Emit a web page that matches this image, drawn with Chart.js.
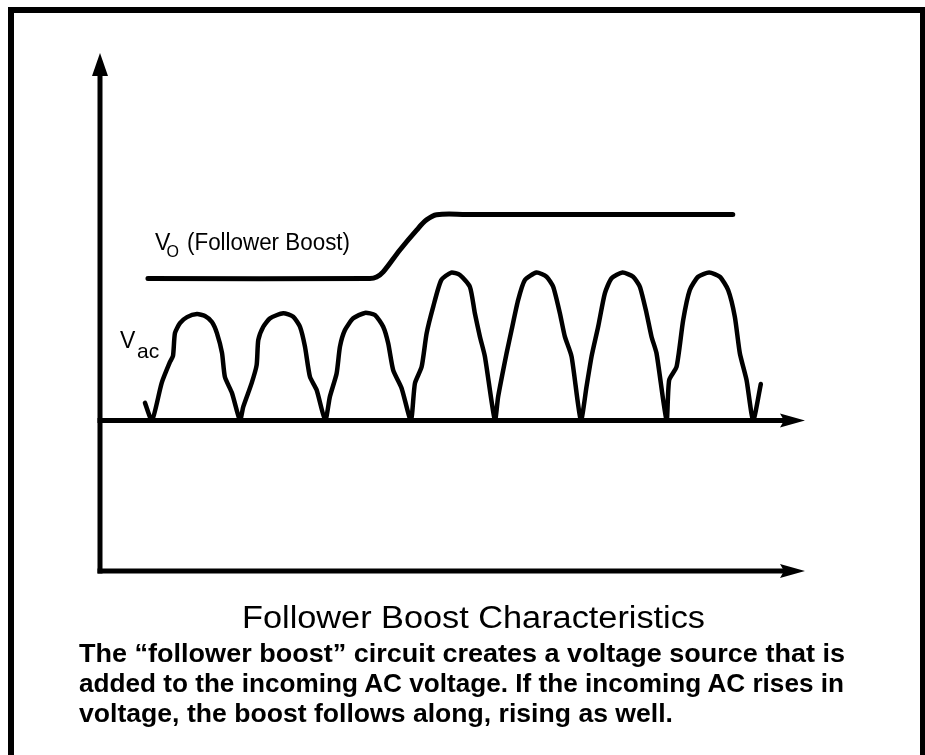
<!DOCTYPE html>
<html><head><meta charset="utf-8">
<script src="https://cdn.jsdelivr.net/npm/chart.js@4.4.1/dist/chart.umd.min.js"></script>
<style>
html,body{margin:0;padding:0;background:#fff;}
#wrap{position:relative;width:925px;height:755px;overflow:hidden;background:#fff;}
#frame{position:absolute;left:8px;top:7px;width:918px;height:800px;border:6px solid #000;box-sizing:border-box;}
#c{position:absolute;left:0;top:0;width:925px;height:755px;}
.t{position:absolute;white-space:nowrap;font-family:"Liberation Sans",Arial,Helvetica,sans-serif;color:#000;transform-origin:0 0;}
.b{font-weight:bold;}
</style></head>
<body><div id="wrap">
<div id="frame"></div>
<canvas id="c" width="925" height="755"></canvas>
<div class="t" id="voV">V</div>
<div class="t" id="voSub">O</div>
<div class="t" id="voTxt">(Follower Boost)</div>
<div class="t" id="vacV">V</div>
<div class="t" id="vacSub">ac</div>
<div class="t" id="title">Follower Boost Characteristics</div>
<div class="t b" id="cap1">The “follower boost” circuit creates a voltage source that is</div>
<div class="t b" id="cap2">added to the incoming AC voltage. If the incoming AC rises in</div>
<div class="t b" id="cap3">voltage, the boost follows along, rising as well.</div>
</div>
<script>
// ---- data (x = time units, half-cycle ≈ 10; y = volts, arbitrary units) ----
const vacX = [5.23, 6.05,
  7.17, 8.14, 8.49, 8.72, 9.30, 10.12, 11.28, 12.21, 13.02, 13.60, 14.19, 14.53, 15.35, 16.28,
  16.66, 17.64, 18.22, 18.41, 18.99, 19.77, 21.31, 22.48, 23.26, 23.84, 24.42, 25.20, 26.20,
  26.74, 27.52, 27.91, 28.49, 29.45, 30.81, 31.98, 32.94, 33.52, 34.10, 35.08, 36.16,
  36.63, 37.41, 37.99, 38.76, 39.69, 40.85, 41.86, 43.02, 43.60, 44.19, 44.77, 45.93,
  46.31, 47.29, 47.87, 48.64, 49.42, 50.78, 51.94, 52.71, 53.49, 54.07, 54.85, 55.93,
  56.59, 57.17, 57.94, 58.72, 59.50, 60.78, 62.01, 62.79, 63.57, 64.15, 64.73, 65.90,
  66.20, 67.06, 67.83, 68.60, 69.57, 70.85, 72.09, 73.06, 73.84, 74.42, 75.20, 75.97,
  76.86];
const vacY = [5.8, 0,
  12.4, 19.4, 21.4, 29.0, 32.3, 34.3, 35.3, 34.7, 32.7, 29.0, 22.4, 14.4, 9.1, 0,
  4.5, 12.4, 18.4, 26.7, 31.1, 33.9, 35.6, 34.4, 31.1, 24.5, 14.5, 10.1, 0,
  7.9, 15.6, 24.5, 30.0, 33.9, 35.7, 35.0, 31.1, 25.6, 16.7, 10.7, 0,
  12.3, 17.8, 28.9, 37.8, 46.6, 49.1, 48.3, 44.4, 35.6, 27.8, 21.2, 0,
  7.9, 22.3, 30.0, 40.0, 46.6, 49.1, 47.7, 44.4, 35.6, 27.8, 21.2, 0,
  11.2, 21.2, 31.1, 42.2, 47.2, 49.1, 47.7, 44.4, 35.6, 27.8, 22.3, 0,
  13.4, 17.8, 33.3, 43.3, 47.7, 49.1, 47.7, 43.3, 34.4, 22.3, 13.4, 0,
  12.1];
const voX = [5.58, 31.40, 32.17, 32.94, 34.88, 36.83, 37.99, 39.15, 42.64, 73.60];
const voY = [47.1, 47.1, 47.6, 49.3, 56.6, 63.2, 66.6, 68.3, 68.4, 68.4];

const xRange = [0, 82];
const yRange = [-50, 122];

const toPts = (xs, ys) => xs.map((v, i) => ({x: v, y: ys[i]}));

const axesPlugin = {
  id: 'axes',
  beforeDatasetsDraw(chart) {
    const {ctx, scales: {x, y}} = chart;
    const y0 = y.getPixelForValue(0);
    const xl = x.getPixelForValue(xRange[0]);
    const xr = x.getPixelForValue(xRange[1]);
    const yb = y.getPixelForValue(yRange[0]);
    const yt = y.getPixelForValue(yRange[1]);
    ctx.save();
    ctx.strokeStyle = '#000'; ctx.fillStyle = '#000'; ctx.lineWidth = 5; ctx.lineCap = 'butt';
    ctx.beginPath(); ctx.moveTo(xl, yb + 2.5); ctx.lineTo(xl, yt + 16); ctx.stroke();
    ctx.beginPath(); ctx.moveTo(xl - 2.5, yb); ctx.lineTo(xr - 18, yb); ctx.stroke();
    ctx.beginPath(); ctx.moveTo(xl - 2.5, y0); ctx.lineTo(xr - 18, y0); ctx.stroke();
    ctx.beginPath(); ctx.moveTo(xl, yt); ctx.lineTo(xl + 8, yt + 23); ctx.lineTo(xl - 8, yt + 23); ctx.closePath(); ctx.fill();
    [yb, y0].forEach(yy => {
      ctx.beginPath(); ctx.moveTo(xr, yy); ctx.lineTo(xr - 25, yy - 7); ctx.lineTo(xr - 21, yy);
      ctx.lineTo(xr - 25, yy + 7); ctx.closePath(); ctx.fill();
    });
    ctx.restore();
  }
};

new Chart(document.getElementById('c'), {
  type: 'scatter',
  data: {
    datasets: [
      {label: 'Vac', data: toPts(vacX, vacY), showLine: true, borderColor: '#000', borderWidth: 4.5,
       pointRadius: 0, tension: 0.2, borderJoinStyle: 'round', borderCapStyle: 'round'},
      {label: 'Vo (Follower Boost)', data: toPts(voX, voY), showLine: true, borderColor: '#000', borderWidth: 5,
       pointRadius: 0, tension: 0.35, borderJoinStyle: 'round', borderCapStyle: 'round'}
    ]
  },
  options: {
    responsive: false, animation: false, devicePixelRatio: 1,
    layout: {padding: {left: 100, top: 53, right: 120, bottom: 184}},
    plugins: {legend: {display: false}, tooltip: {enabled: false}, title: {display: false}},
    scales: {
      x: {type: 'linear', min: xRange[0], max: xRange[1], display: false},
      y: {type: 'linear', min: yRange[0], max: yRange[1], display: false}
    }
  },
  plugins: [axesPlugin]
});

// text placement by baseline (Liberation Sans metrics, line-height = font-size), optional width fit
function place(id, x, base, fs, width) {
  const el = document.getElementById(id);
  el.style.fontSize = fs + 'px';
  el.style.lineHeight = fs + 'px';
  el.style.left = x + 'px';
  el.style.top = (base - 0.8465 * fs) + 'px';
  if (width) {
    const w = el.getBoundingClientRect().width;
    if (w > 0) el.style.transform = 'scaleX(' + (width / w).toFixed(4) + ')';
  }
}
place('voV', 155, 250, 23);
place('voSub', 166.5, 257.5, 16);
place('voTxt', 187, 250, 23, 163);
place('vacV', 120, 348, 23);
place('vacSub', 137, 358, 21);
place('title', 242, 628, 31, 463);
place('cap1', 79, 662, 26, 766);
place('cap2', 79, 692, 26, 765);
place('cap3', 79, 722, 26, 594);
</script>
</body></html>
